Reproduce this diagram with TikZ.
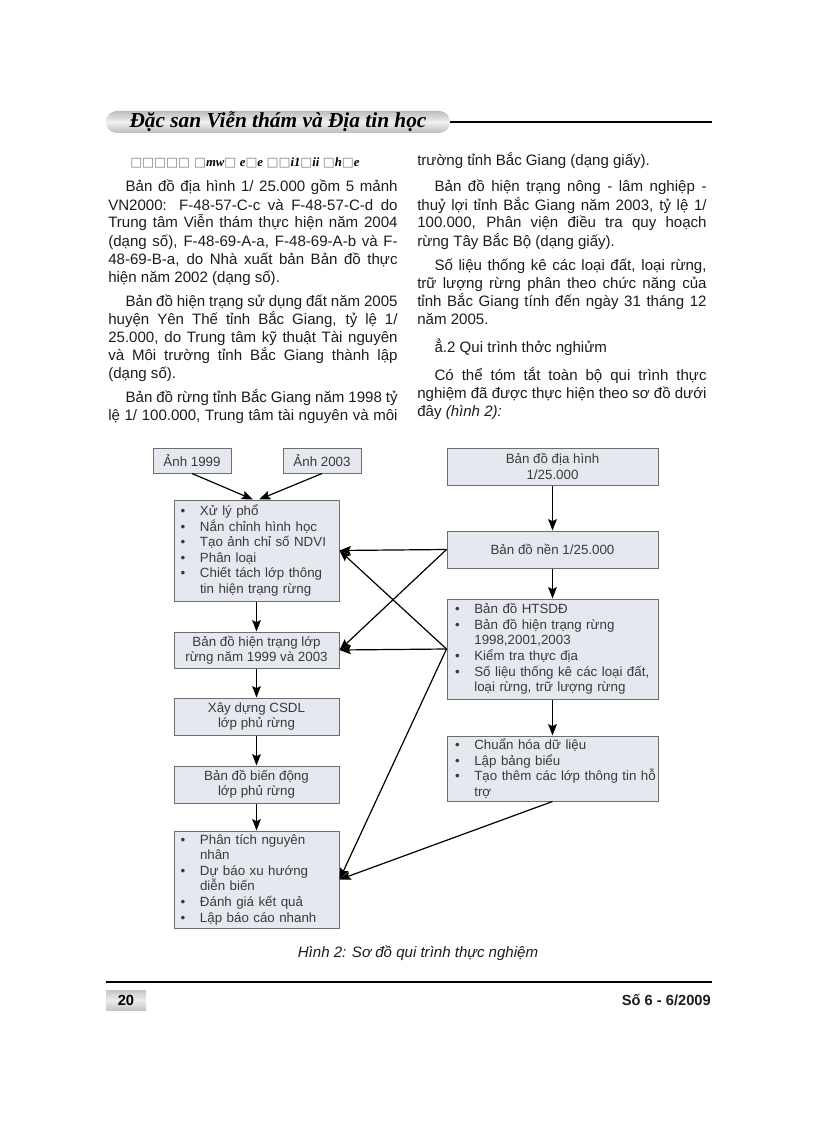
\documentclass[tikz,border=0pt]{standalone}
\usepackage{fontspec}
\setmainfont{Liberation Sans}
\newfontfamily\headfont{Liberation Serif}
\newfontfamily\symfont{DejaVu Sans}
\usetikzlibrary{arrows.meta,positioning}
\definecolor{Ink}{HTML}{1C1C1C}
\definecolor{BoxInk}{HTML}{3A3A3A}
\definecolor{BoxFill}{HTML}{E6E8F0}
\definecolor{BoxLine}{HTML}{6E6E6E}
\definecolor{Band}{HTML}{BDBDBD}
\newlength\colw \setlength\colw{217pt}
\newlength\parind \setlength\parind{13pt}
\newcommand\jl[1]{\makebox[\colw][s]{#1}}
\newcommand\jli[1]{\hspace*{\parind}\makebox[\dimexpr\colw-\parind\relax][s]{#1}}
\newcommand\pli[1]{\hspace*{\parind}#1}
\newcommand\bi[1]{\mbox{\makebox[14.5pt][l]{\textbullet}#1}}
\newcommand\bc[1]{\mbox{\hspace*{14.5pt}#1}}
\newcommand\gl[1]{{\headfont\bfseries\itshape #1}}
\tikzset{
  bodyline/.style={anchor=base west,inner sep=0pt,font=\fontsize{11.3}{13.5}\selectfont,text=Ink},
  cbox/.style={draw=BoxLine,fill=BoxFill,line width=0.75pt,align=center,font=\fontsize{10}{11.4}\selectfont,text=BoxInk,inner sep=0pt},
  lbox/.style={cbox,align=left,inner xsep=5pt,font=\fontsize{10}{11.7}\selectfont},
  arr/.style={-{Stealth[length=8.5pt,width=6.5pt,inset=1.5pt]},line width=0.9pt,draw=black}
}
\begin{document}
\begin{tikzpicture}[x=0.75pt,y=-0.75pt]
  \useasboundingbox (0,0) rectangle (816,1123);
  % header band
  \node[draw=none,rounded corners=8pt,top color=Band,bottom color=Band,middle color=gray!12,
    minimum width=258pt,minimum height=16.5pt,inner sep=0pt,
    font=\headfont\bfseries\itshape\fontsize{16}{16}\selectfont] (band) at (278,122) {Đặc san Viễn thám và Địa tin học};
  \coordinate (hend) at (712,122);
  \draw[line width=1.6pt] (band.east) -- (hend);
  % left column
  \node[anchor=base west,inner sep=0pt,font=\fontsize{9.5}{9.5}\selectfont] (sechead) at (130,167)
    {{\symfont\color{gray}□□□□□ □}\gl{mw}{\symfont\color{gray}□} \gl{e}{\symfont\color{gray}□}\gl{e} {\symfont\color{gray}□□}\gl{i1}{\symfont\color{gray}□}\gl{ii} {\symfont\color{gray}□}\gl{h}{\symfont\color{gray}□}\gl{e}};
  \node[bodyline] (l1) at (108,192) {\jli{Bản đồ địa hình 1/ 25.000 gồm 5 mảnh}};
  \node[bodyline] (l2) at (108,210) {\jl{VN2000: F-48-57-C-c và F-48-57-C-d do}};
  \node[bodyline] (l3) at (108,228) {\jl{Trung tâm Viễn thám thực hiện năm 2004}};
  \node[bodyline] (l4) at (108,246) {\jl{(dạng số), F-48-69-A-a, F-48-69-A-b và F-}};
  \node[bodyline] (l5) at (108,264) {\jl{48-69-B-a, do Nhà xuất bản Bản đồ thực}};
  \node[bodyline] (l6) at (108,282) {hiện năm 2002 (dạng số).};
  \node[bodyline] (l7) at (108,306) {\jli{Bản đồ hiện trạng sử dụng đất năm 2005}};
  \node[bodyline] (l8) at (108,324) {\jl{huyện Yên Thế tỉnh Bắc Giang, tỷ lệ 1/}};
  \node[bodyline] (l9) at (108,342) {\jl{25.000, do Trung tâm kỹ thuật Tài nguyên}};
  \node[bodyline] (l10) at (108,360) {\jl{và Môi trường tỉnh Bắc Giang thành lập}};
  \node[bodyline] (l11) at (108,378) {(dạng số).};
  \node[bodyline] (l12) at (108,402) {\jli{Bản đồ rừng tỉnh Bắc Giang năm 1998 tỷ}};
  \node[bodyline] (l13) at (108,420) {\jl{lệ 1/ 100.000, Trung tâm tài nguyên và môi}};
  % right column
  \node[bodyline] (r1) at (417,166) {trường tỉnh Bắc Giang (dạng giấy).};
  \node[bodyline] (r2) at (417,192) {\jli{Bản đồ hiện trạng nông - lâm nghiệp -}};
  \node[bodyline] (r3) at (417,210) {\jl{thuỷ lợi tỉnh Bắc Giang năm 2003, tỷ lệ 1/}};
  \node[bodyline] (r4) at (417,228) {\jl{100.000, Phân viện điều tra quy hoạch}};
  \node[bodyline] (r5) at (417,246) {rừng Tây Bắc Bộ (dạng giấy).};
  \node[bodyline] (r6) at (417,270) {\jli{Số liệu thống kê các loại đất, loại rừng,}};
  \node[bodyline] (r7) at (417,288) {\jl{trữ lượng rừng phân theo chức năng của}};
  \node[bodyline] (r8) at (417,306) {\jl{tỉnh Bắc Giang tính đến ngày 31 tháng 12}};
  \node[bodyline] (r9) at (417,324) {năm 2005.};
  \node[bodyline] (r10) at (417,352) {\pli{ẳ.2 Qui trình thởc nghiửm}};
  \node[bodyline] (r11) at (417,380) {\jli{Có thể tóm tắt toàn bộ qui trình thực}};
  \node[bodyline] (r12) at (417,398) {\jl{nghiệm đã được thực hiện theo sơ đồ dưới}};
  \node[bodyline] (r13) at (417,416) {đây \textit{(hình 2):}};
  % diagram, left chain
  \node[cbox,minimum width=58.5pt,minimum height=18.75pt] (a1999) at (192,460.5) {Ảnh 1999};
  \node[cbox,minimum width=58.5pt,minimum height=18.75pt] (a2003) at (322,460.5) {Ảnh 2003};
  \node[lbox,text width=113.75pt,minimum height=75.75pt] (proc) at (256.5,550.5)
    {\bi{Xử lý phổ}\\\bi{Nắn chỉnh hình học}\\\bi{Tạo ảnh chỉ số NDVI}\\\bi{Phân loại}\\\bi{Chiết tách lớp thông}\\\bc{tin hiện trạng rừng}};
  \node[cbox,minimum width=123.75pt,minimum height=27pt] (map9903) at (256.5,650) {Bản đồ hiện trạng lớp\\rừng năm 1999 và 2003};
  \node[cbox,minimum width=123.75pt,minimum height=27.75pt] (csdl) at (256.5,716.5) {Xây dựng CSDL\\lớp phủ rừng};
  \node[cbox,minimum width=123.75pt,minimum height=27.75pt] (change) at (256.5,784.5) {Bản đồ biến động\\lớp phủ rừng};
  \node[lbox,text width=113.75pt,minimum height=72.75pt] (result) at (256.5,879.5)
    {\bi{Phân tích nguyên}\\\bc{nhân}\\\bi{Dự báo xu hướng}\\\bc{diễn biến}\\\bi{Đánh giá kết quả}\\\bi{Lập báo cáo nhanh}};
  % diagram, right chain
  \node[cbox,minimum width=158.25pt,minimum height=27.75pt] (topo) at (552.5,466.5) {Bản đồ địa hình\\1/25.000};
  \node[cbox,minimum width=158.25pt,minimum height=27.75pt] (base) at (552.5,549.5) {Bản đồ nền 1/25.000};
  \node[lbox,inner xsep=6pt,text width=146.25pt,minimum height=75pt] (data) at (552.5,649)
    {\bi{Bản đồ HTSDĐ}\\\bi{Bản đồ hiện trạng rừng}\\\bc{1998,2001,2003}\\\bi{Kiểm tra thực địa}\\\bi{Số liệu thống kê các loại đất,}\\\bc{loại rừng, trữ lượng rừng}};
  \node[lbox,inner xsep=6pt,text width=146.25pt,minimum height=48.75pt] (prep) at (552.5,768.5)
    {\bi{Chuẩn hóa dữ liệu}\\\bi{Lập bảng biểu}\\\bi{Tạo thêm các lớp thông tin hỗ}\\\bc{trợ}};
  \draw[arr] (a1999.south) -- ([xshift=-2.6pt]proc.north);
  \draw[arr] (a2003.south) -- ([xshift=1.9pt]proc.north);
  \draw[arr] (proc) -- (map9903);
  \draw[arr] (map9903) -- (csdl);
  \draw[arr] (csdl) -- (change);
  \draw[arr] (change) -- (result);
  \draw[arr] (topo) -- (base);
  \draw[arr] (base) -- (data);
  \draw[arr] (data) -- (prep);
  \draw[arr] (base.west) -- (proc.east);
  \draw[arr] (base.west) -- (map9903.east);
  \draw[arr] (data.west) -- (proc.east);
  \draw[arr] (data.west) -- (map9903.east);
  \draw[arr] (data.west) -- (result.east);
  \draw[arr] (prep.south) -- (result.east);
  % caption and footer
  \node[font=\itshape\fontsize{11.3}{11}\selectfont,text=Ink] (cap) at (418,953) {Hình 2: Sơ đồ qui trình thực nghiệm};
  \coordinate (fl) at (106,982);
  \coordinate (fr) at (712,982);
  \draw[line width=1.5pt] (fl) -- (fr);
  \node[top color=gray!45,bottom color=gray!45,middle color=gray!15,minimum width=30pt,minimum height=15pt,
    inner sep=0pt,font=\bfseries\fontsize{11}{11}\selectfont] (pno) at (126,1000) {20};
  \node[anchor=east,inner sep=0pt,font=\bfseries\fontsize{11}{11}\selectfont,text=Ink] (issue) at (711,1000) {Số 6 - 6/2009};
\end{tikzpicture}
\end{document}
